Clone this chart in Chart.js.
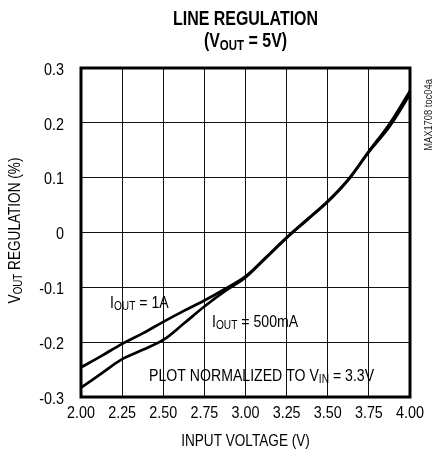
<!DOCTYPE html>
<html>
<head>
<meta charset="utf-8">
<script src="https://cdn.jsdelivr.net/npm/chart.js@4"></script>
<style>
  html, body { margin: 0; padding: 0; background: #fff; }
  #wrap { width: 435px; height: 460px; position: relative; }
</style>
</head>
<body>
<div id="wrap"><canvas id="c" width="435" height="460"></canvas></div>
<script>
// ---- data ----
const inputVoltage = [2.0, 2.125, 2.25, 2.375, 2.5, 2.625, 2.75, 2.875, 3.0, 3.125, 3.25, 3.375, 3.5, 3.625, 3.75, 3.875, 4.0];
const regulation1A = [-0.246, -0.225, -0.203, -0.184, -0.163, -0.143, -0.124, -0.103, -0.080, -0.045, -0.009, 0.024, 0.057, 0.097, 0.148, 0.198, 0.258];
const regulation500mA = [-0.283, -0.257, -0.231, -0.214, -0.196, -0.166, -0.135, -0.107, -0.082, -0.046, -0.010, 0.023, 0.056, 0.096, 0.147, 0.193, 0.252];
const xTicks = [2.0, 2.25, 2.5, 2.75, 3.0, 3.25, 3.5, 3.75, 4.0];
const yTicks = [-0.3, -0.2, -0.1, 0, 0.1, 0.2, 0.3];

const FONT = "'Liberation Sans', Arial, sans-serif";
const SX = 0.83; // horizontal condensing to mimic the narrow typeface

function pts(xs, ys) { return xs.map((x, i) => ({ x: x, y: ys[i] })); }
function fmtX(v) { return Number(v).toFixed(2); }
function fmtY(v) { return Math.abs(v) < 1e-9 ? '0' : Number(v).toFixed(1); }

// draw (condensed) text with subscripts: parts = [[text, isSub], ...]
function drawParts(ctx, parts, x, y, size, align, bold, sx, baseline) {
  sx = sx || SX;
  const w = (bold ? 'bold ' : '');
  let total = 0;
  const widths = parts.map(p => {
    ctx.font = w + (p[1] ? size * 0.72 : size) + 'px ' + FONT;
    const m = ctx.measureText(p[0]).width;
    total += m;
    return m;
  });
  let cx = align === 'center' ? -total / 2 : (align === 'right' ? -total : 0);
  ctx.save();
  ctx.translate(x, y);
  ctx.scale(sx, 1);
  ctx.textAlign = 'left';
  ctx.textBaseline = baseline || 'alphabetic';
  parts.forEach((p, i) => {
    ctx.font = w + (p[1] ? size * 0.72 : size) + 'px ' + FONT;
    ctx.fillText(p[0], cx, p[1] ? size * 0.13 : 0);
    cx += widths[i];
  });
  ctx.restore();
}

const decorPlugin = {
  id: 'decor',
  afterDatasetsDraw(chart) {
    const ctx = chart.ctx;
    const a = chart.chartArea;
    const xs = chart.scales.x, ys = chart.scales.y;
    ctx.save();
    ctx.strokeStyle = '#000';
    ctx.lineWidth = 3;
    ctx.strokeRect(a.left, a.top, a.right - a.left, a.bottom - a.top);
    ctx.fillStyle = '#000';
    // tick labels, positioned by the chart's own scales
    xs.ticks.forEach(t => {
      drawParts(ctx, [[fmtX(t.value), false]], xs.getPixelForValue(t.value), a.bottom + 21, 17, 'center', false, 0.845);
    });
    ys.ticks.forEach(t => {
      drawParts(ctx, [[fmtY(t.value), false]], a.left - 17, ys.getPixelForValue(t.value) + 2, 17, 'right', false, 0.845, 'middle');
    });
    const cxm = (a.left + a.right) / 2;
    // title
    drawParts(ctx, [['LINE REGULATION', false]], cxm, 25, 21, 'center', true, 0.76);
    drawParts(ctx, [['(V', false], ['OUT', true], [' = 5V)', false]], cxm, 47, 21, 'center', true, 0.76);
    // x axis title
    drawParts(ctx, [['INPUT VOLTAGE (V)', false]], cxm, 446, 17, 'center', false, 0.8);
    // y axis title (rotated)
    ctx.save();
    ctx.translate(20, (a.top + a.bottom) / 2 - 2);
    ctx.rotate(-Math.PI / 2);
    drawParts(ctx, [['V', false], ['OUT', true], [' REGULATION (%)', false]], 0, 0, 17, 'center', false, 0.8);
    ctx.restore();
    // side note
    ctx.save();
    ctx.translate(432, 115);
    ctx.rotate(-Math.PI / 2);
    ctx.fillStyle = '#222';
    drawParts(ctx, [['MAX1708 toc04a', false]], 0, 0, 11, 'center', false, 0.85);
    ctx.restore();
    // annotations
    drawParts(ctx, [['I', false], ['OUT', true], [' = 1A', false]], 110, 308, 17, 'left', false);
    drawParts(ctx, [['I', false], ['OUT', true], [' = 500mA', false]], 212, 327, 17, 'left', false);
    drawParts(ctx, [['PLOT NORMALIZED TO V', false], ['IN', true], [' = 3.3V', false]], 149, 381, 17, 'left', false);
    ctx.restore();
  }
};

new Chart(document.getElementById('c'), {
  type: 'scatter',
  data: {
    datasets: [
      {
        label: 'IOUT = 1A',
        data: pts(inputVoltage, regulation1A),
        showLine: true,
        borderColor: '#000',
        borderWidth: 2.7,
        pointRadius: 0,
        tension: 0.35,
        fill: false
      },
      {
        label: 'IOUT = 500mA',
        data: pts(inputVoltage, regulation500mA),
        showLine: true,
        borderColor: '#000',
        borderWidth: 2.7,
        pointRadius: 0,
        tension: 0.35,
        fill: false
      }
    ]
  },
  options: {
    responsive: false,
    animation: false,
    devicePixelRatio: 1,
    layout: { padding: { top: 68, right: 25, bottom: 0, left: 0 } },
    plugins: {
      legend: { display: false },
      tooltip: { enabled: false },
      title: { display: false }
    },
    scales: {
      x: {
        type: 'linear',
        min: xTicks[0],
        max: xTicks[xTicks.length - 1],
        afterBuildTicks(scale) { scale.ticks = xTicks.map(v => ({ value: v })); },
        afterFit(scale) { scale.height = 63; },
        ticks: { display: false, autoSkip: false, callback: fmtX },
        grid: { color: '#111', lineWidth: 1, drawTicks: false },
        border: { display: false }
      },
      y: {
        type: 'linear',
        min: yTicks[0],
        max: yTicks[yTicks.length - 1],
        afterBuildTicks(scale) { scale.ticks = yTicks.map(v => ({ value: v })); },
        afterFit(scale) { scale.width = 81; },
        ticks: { display: false, autoSkip: false, callback: fmtY },
        grid: { color: '#111', lineWidth: 1, drawTicks: false },
        border: { display: false }
      }
    }
  },
  plugins: [decorPlugin]
});
</script>
</body>
</html>
